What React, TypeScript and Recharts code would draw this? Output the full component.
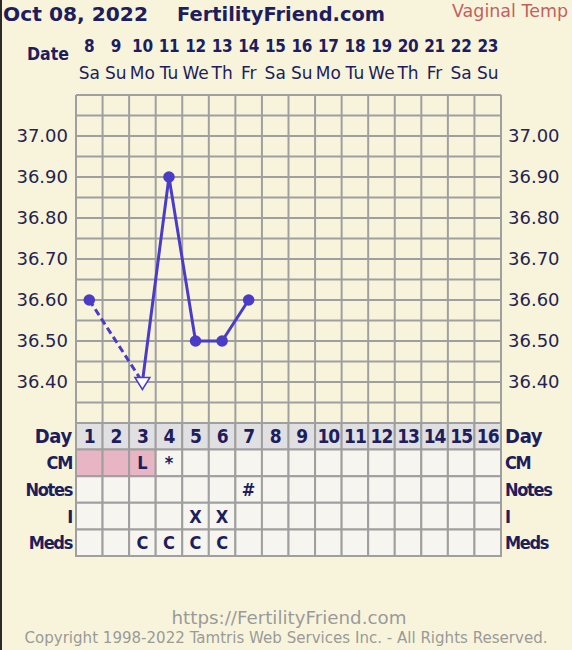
import React from 'react';
import { ComposedChart, Line, Scatter, XAxis, YAxis, CartesianGrid, ReferenceArea } from 'recharts';

// ---------- data ----------
const days = [1, 2, 3, 4, 5, 6, 7, 8, 9, 10, 11, 12, 13, 14, 15, 16];
const dates = [8, 9, 10, 11, 12, 13, 14, 15, 16, 17, 18, 19, 20, 21, 22, 23];
const weekdays = ['Sa', 'Su', 'Mo', 'Tu', 'We', 'Th', 'Fr', 'Sa', 'Su', 'Mo', 'Tu', 'We', 'Th', 'Fr', 'Sa', 'Su'];
const temps: (number | null)[] = [36.6, null, 36.4, 36.9, 36.5, 36.5, 36.6, null, null, null, null, null, null, null, null, null];
const openMarkerDays = [3];
const tempGridTicks = [36.3, 36.35, 36.4, 36.45, 36.5, 36.55, 36.6, 36.65, 36.7, 36.75, 36.8, 36.85, 36.9, 36.95, 37.0, 37.05, 37.1];
const tempLabels = [36.4, 36.5, 36.6, 36.7, 36.8, 36.9, 37.0];
const columnEdges = [0.5, 1.5, 2.5, 3.5, 4.5, 5.5, 6.5, 7.5, 8.5, 9.5, 10.5, 11.5, 12.5, 13.5, 14.5, 15.5, 16.5];
const tableRows = ['Day', 'CM', 'Notes', 'I', 'Meds'];
const rowCenters = [0.5, 1.5, 2.5, 3.5, 4.5];
const cmShadedDays = [1, 2, 3];
const cmMarks = ['', '', 'L', '*', '', '', '', '', '', '', '', '', '', '', '', ''];
const notesMarks = ['', '', '', '', '', '', '#', '', '', '', '', '', '', '', '', ''];
const intercourseMarks = ['', '', '', '', 'X', 'X', '', '', '', '', '', '', '', '', '', ''];
const medsMarks = ['', '', 'C', 'C', 'C', 'C', '', '', '', '', '', '', '', '', '', ''];

// ---------- styles ----------
const BG = '#f8f4dc';
const NAVY = '#201d5c';
const LABEL = '#26244f';
const PURPLE = '#4a3cc6';
const GRID = '#9f9f9f';
const CELL = '#f6f5ef';
const DAYROW = '#e0e0e2';
const PINK = '#e7b5c4';
const COND = 'DejaVu Sans Condensed, DejaVu Sans, sans-serif';
const W = 572;
const H = 650;

const chartData = days.map((d, i) => {
  const t = temps[i];
  const prev = i > 0 ? temps[i - 1] : null;
  const next = i < temps.length - 1 ? temps[i + 1] : null;
  const hasEarlier = temps.slice(0, i).some((v) => v != null);
  const hasLater = temps.slice(i + 1).some((v) => v != null);
  const solid = t != null && (prev != null || next != null) ? t : null;
  const dashed = t != null && ((next == null && hasLater) || (prev == null && hasEarlier)) ? t : null;
  return { day: d, temp: t, solid, dashed };
});
const markerData = chartData.filter((p) => p.temp != null);

const markRows = [cmMarks, notesMarks, intercourseMarks, medsMarks];
const cells = tableRows.flatMap((row, r) =>
  days.map((d, i) => ({
    key: `${r}-${d}`,
    day: d,
    row: rowCenters[r],
    x1: columnEdges[i],
    x2: columnEdges[i + 1],
    y1: r,
    y2: r + 1,
    fill: r === 0 ? DAYROW : r === 1 && cmShadedDays.includes(d) ? PINK : CELL,
    text: r === 0 ? String(d) : markRows[r - 1][i],
    isDay: r === 0,
  }))
);

const DateTick = (props: any) => {
  const { x, y, payload } = props;
  const i = days.indexOf(payload.value);
  return (
    <g>
      <text
        x={x}
        y={y}
        dy={-43}
        textAnchor="middle"
        fontWeight="bold"
        fontSize={17}
        letterSpacing={-0.3}
        fill={NAVY}
        style={{ fontFamily: COND, fontStretch: 'condensed' }}
      >
        {dates[i]}
      </text>
      <text x={x} y={y} dy={-16} textAnchor="middle" fontSize={17} fill={NAVY}>
        {weekdays[i]}
      </text>
    </g>
  );
};

const isLabel = (v: number) => tempLabels.some((l) => Math.abs(l - v) < 1e-6);
const fmtTemp = (v: number) => (isLabel(v) ? v.toFixed(2) : '');

const MarkerShape = (props: any) => {
  const { cx, cy, payload } = props;
  if (openMarkerDays.includes(payload.day)) {
    return (
      <path
        d={`M${cx - 7.5},${cy - 4.5} L${cx + 7.5},${cy - 4.5} L${cx},${cy + 7.5} Z`}
        fill="#ffffff"
        stroke={PURPLE}
        strokeWidth={1.5}
      />
    );
  }
  return <circle cx={cx} cy={cy} r={5.8} fill={PURPLE} />;
};

const CellText = (props: any) => {
  const { cx, cy, payload } = props;
  if (!payload.text) return <g />;
  return (
    <text
      x={cx}
      y={cy}
      dy={payload.isDay ? 7 : 6.5}
      textAnchor="middle"
      fontWeight="bold"
      fontSize={payload.isDay ? 19 : 18}
      letterSpacing={payload.isDay ? -1 : 0}
      fill={NAVY}
      style={{ fontFamily: COND, fontStretch: 'condensed' }}
    >
      {payload.text}
    </text>
  );
};

const RowTick = (props: any) => {
  const { x, y, payload, side } = props;
  const name = tableRows[rowCenters.indexOf(payload.value)];
  const isDay = name === 'Day';
  return (
    <text
      x={x}
      y={y}
      dy={isDay ? 7 : 6.5}
      textAnchor={side === 'left' ? 'end' : 'start'}
      fontWeight="bold"
      fontSize={isDay ? 20 : 18}
      letterSpacing={isDay ? -0.3 : -1.3}
      fill={NAVY}
      style={{ fontFamily: COND, fontStretch: 'condensed' }}
    >
      {name}
    </text>
  );
};

export default function App() {
  return (
    <div
      style={{
        position: 'absolute',
        left: 0,
        top: 0,
        width: W,
        height: H,
        background: BG,
        fontFamily: 'DejaVu Sans, Verdana, sans-serif',
        overflow: 'hidden',
      }}
    >
      <div style={{ position: 'absolute', left: 0, top: 0, width: 2, height: H, background: '#2a2a2a' }} />

      {/* Temperature chart */}
      <div style={{ position: 'absolute', left: 0, top: 0 }}>
        <ComposedChart width={W} height={H} data={chartData} margin={{ top: 0, right: 0, bottom: H - 423, left: 0 }}>
          <XAxis
            xAxisId="grid"
            type="number"
            dataKey="day"
            domain={[0.5, 16.5]}
            ticks={columnEdges}
            interval={0}
            allowDataOverflow
            hide
          />
          <XAxis
            xAxisId="date"
            orientation="top"
            type="number"
            dataKey="day"
            domain={[0.5, 16.5]}
            ticks={days}
            interval={0}
            height={95}
            axisLine={false}
            tickLine={false}
            tickSize={0}
            tickMargin={0}
            tick={<DateTick />}
          />
          <YAxis
            yAxisId="temp"
            orientation="left"
            type="number"
            domain={[36.3, 37.1]}
            ticks={tempGridTicks}
            interval={0}
            width={76}
            axisLine={false}
            tickLine={false}
            tickSize={0}
            tickMargin={8}
            tickFormatter={fmtTemp}
            tick={{ fill: LABEL, fontSize: 18 }}
          />
          <YAxis
            yAxisId="tempR"
            orientation="right"
            type="number"
            domain={[36.3, 37.1]}
            ticks={tempGridTicks}
            interval={0}
            width={71}
            axisLine={false}
            tickLine={false}
            tickSize={0}
            tickMargin={7}
            tickFormatter={fmtTemp}
            tick={{ fill: LABEL, fontSize: 18 }}
            allowDataOverflow
          />
          <CartesianGrid xAxisId="grid" yAxisId="temp" stroke={GRID} strokeWidth={2} />
          <Line
            xAxisId="date"
            yAxisId="temp"
            dataKey="dashed"
            connectNulls
            stroke={PURPLE}
            strokeWidth={3}
            strokeDasharray="7 4"
            dot={false}
            isAnimationActive={false}
          />
          <Line
            xAxisId="date"
            yAxisId="temp"
            dataKey="solid"
            stroke={PURPLE}
            strokeWidth={3}
            dot={false}
            isAnimationActive={false}
          />
          <Scatter
            xAxisId="date"
            yAxisId="temp"
            data={markerData}
            dataKey="temp"
            shape={<MarkerShape />}
            isAnimationActive={false}
          />
        </ComposedChart>
      </div>

      {/* Table chart */}
      <div style={{ position: 'absolute', left: 0, top: 0 }}>
        <ComposedChart width={W} height={H} data={cells} margin={{ top: 423, right: 0, bottom: H - 556, left: 0 }}>
          <XAxis xAxisId="t" type="number" dataKey="day" domain={[0.5, 16.5]} allowDataOverflow hide />
          <YAxis
            yAxisId="rows"
            orientation="left"
            type="number"
            domain={[0, 5]}
            allowDataOverflow
            reversed
            ticks={rowCenters}
            interval={0}
            width={76}
            axisLine={false}
            tickLine={false}
            tickSize={0}
            tickMargin={4}
            tick={<RowTick side="left" />}
          />
          <YAxis
            yAxisId="rowsR"
            orientation="right"
            type="number"
            domain={[0, 5]}
            allowDataOverflow
            reversed
            ticks={rowCenters}
            interval={0}
            width={71}
            axisLine={false}
            tickLine={false}
            tickSize={0}
            tickMargin={4}
            tick={<RowTick side="right" />}
          />
          {cells.map((c) => (
            <ReferenceArea
              key={c.key}
              xAxisId="t"
              yAxisId="rows"
              x1={c.x1}
              x2={c.x2}
              y1={c.y1}
              y2={c.y2}
              fill={c.fill}
              fillOpacity={1}
              stroke={GRID}
              strokeWidth={2}
              ifOverflow="visible"
            />
          ))}
          <Scatter
            xAxisId="t"
            yAxisId="rows"
            data={cells}
            dataKey="row"
            shape={<CellText />}
            isAnimationActive={false}
          />
          <Scatter
            xAxisId="t"
            yAxisId="rowsR"
            data={cells}
            dataKey="row"
            shape={() => <g />}
            isAnimationActive={false}
          />
        </ComposedChart>
      </div>

      {/* Header and footer texts */}
      <svg width={W} height={H} style={{ position: 'absolute', left: 0, top: 0, pointerEvents: 'none' }}>
        <text x={3} y={21} fontSize={20} fontWeight="bold" fill={NAVY} textLength={145} lengthAdjust="spacingAndGlyphs">
          Oct 08, 2022
        </text>
        <text x={177} y={21} fontSize={20} fontWeight="bold" fill={NAVY} textLength={208} lengthAdjust="spacingAndGlyphs">
          FertilityFriend.com
        </text>
        <text x={452} y={17} fontSize={17} fill="#c45f5f" textLength={116} lengthAdjust="spacingAndGlyphs">
          Vaginal Temp
        </text>
        <text
          x={27}
          y={60}
          fontSize={18}
          fontWeight="bold"
          fill={NAVY}
          textLength={42}
          lengthAdjust="spacingAndGlyphs"
          style={{ fontFamily: COND, fontStretch: 'condensed' }}
        >
          Date
        </text>
        <text x={289} y={624} fontSize={17} fill="#9a9a9a" textAnchor="middle" textLength={235} lengthAdjust="spacingAndGlyphs">
          https://FertilityFriend.com
        </text>
        <text x={286} y={643} fontSize={15} fill="#9a9a9a" textAnchor="middle" textLength={523} lengthAdjust="spacingAndGlyphs">
          Copyright 1998-2022 Tamtris Web Services Inc. - All Rights Reserved.
        </text>
      </svg>
    </div>
  );
}
